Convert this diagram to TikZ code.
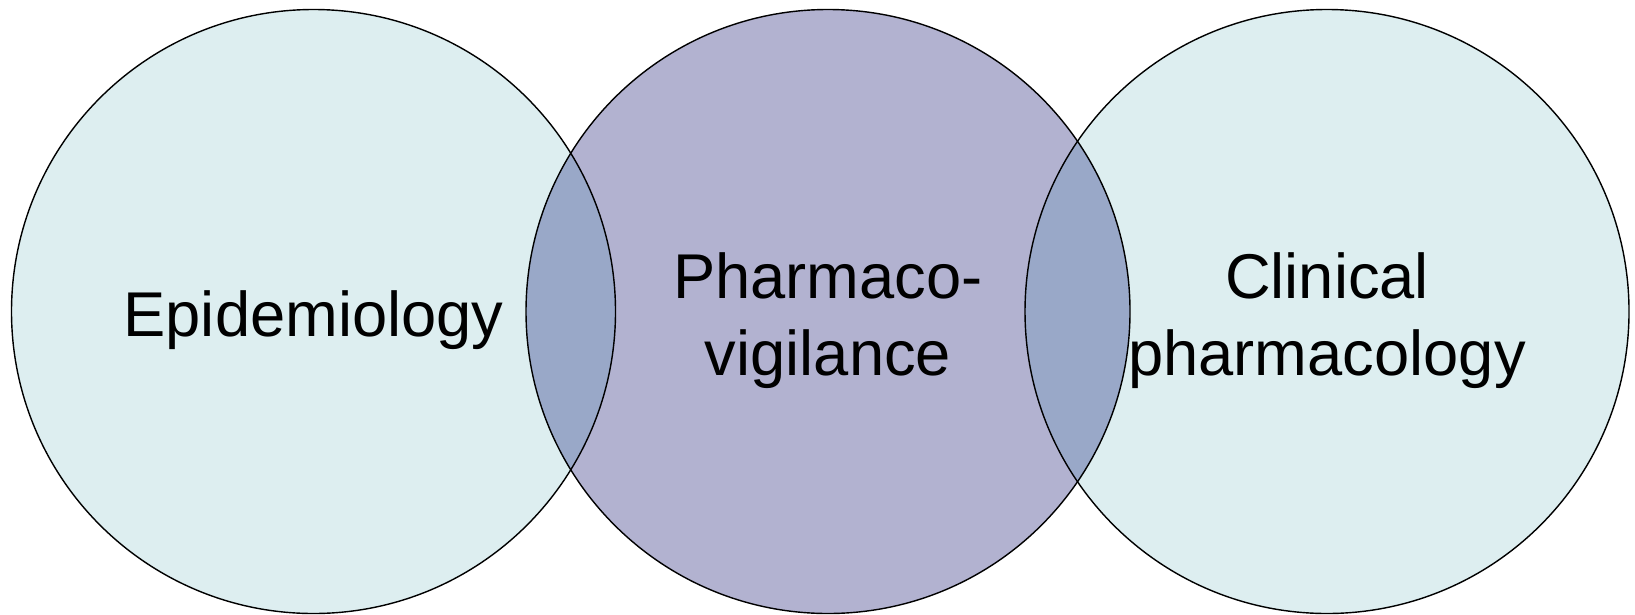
\documentclass[tikz,border=0pt]{standalone}
\usepackage{fontspec}
\setmainfont{Liberation Sans}
\usepackage{tikz}
\usetikzlibrary{shapes,positioning}

\definecolor{sidefill}{RGB}{221,238,240}
\definecolor{midfill}{RGB}{178,178,208}
\definecolor{lensfill}{RGB}{153,168,200}

\begin{document}
\begin{tikzpicture}
    % Define styles
    \tikzstyle{disc} = [circle, minimum size=6.04cm, inner sep=0pt]
    \tikzstyle{rim} = [circle, minimum size=6.04cm, inner sep=0pt, draw=black, line width=0.4pt]
    \tikzstyle{label} = [align=center, font=\fontsize{18}{22}\selectfont, text=black, yshift=-0.9mm]

    \useasboundingbox (0,0) rectangle (16.35,6.14);

    % Discs
    \node[disc, fill=sidefill] (epi) at (3.135,3.025) {};
    \node[disc, fill=midfill] (pv) at (8.28,3.025) {};
    \node[disc, fill=sidefill] (clin) at (13.27,3.025) {};

    % Overlaps
    \begin{scope}
        \clip (pv.center) circle (3.02);
        \fill[lensfill] (epi.center) circle (3.02);
        \fill[lensfill] (clin.center) circle (3.02);
    \end{scope}

    % Outlines
    \node[rim] at (epi.center) {};
    \node[rim] at (pv.center) {};
    \node[rim] at (clin.center) {};

    % Labels
    \node[label] (epi_text) at (epi.center) {Epidemiology};
    \node[label] (pv_text) at (pv.center) {Pharmaco-\\vigilance};
    \node[label] (clin_text) at (clin.center) {Clinical\\pharmacology};
\end{tikzpicture}
\end{document}
